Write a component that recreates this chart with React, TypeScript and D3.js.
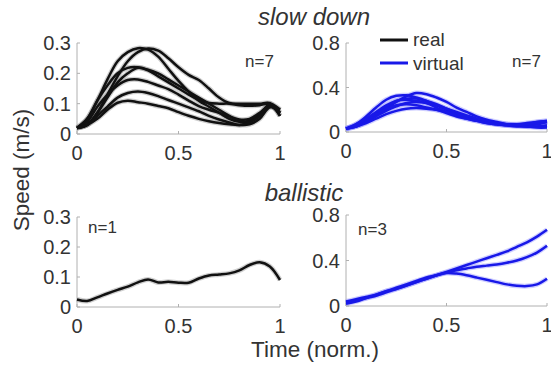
import React from "react";
import * as d3 from "d3";

// normalised time grid shared by every trace
const TIME = [0, 0.05, 0.1, 0.15, 0.2, 0.25, 0.3, 0.35, 0.4, 0.45, 0.5, 0.55, 0.6, 0.65, 0.7, 0.75, 0.8, 0.85, 0.9, 0.95, 1];

// slow down, real (black)
const slowReal: number[][] = [
  [0.02, 0.05, 0.11, 0.18, 0.24, 0.27, 0.283, 0.278, 0.255, 0.215, 0.175, 0.14, 0.11, 0.09, 0.07, 0.05, 0.04, 0.045, 0.065, 0.095, 0.06],
  [0.02, 0.03, 0.07, 0.13, 0.19, 0.24, 0.27, 0.282, 0.275, 0.25, 0.22, 0.195, 0.178, 0.15, 0.12, 0.102, 0.1, 0.1, 0.1, 0.102, 0.06],
  [0.02, 0.05, 0.11, 0.16, 0.2, 0.218, 0.22, 0.21, 0.19, 0.17, 0.15, 0.13, 0.112, 0.102, 0.1, 0.1, 0.095, 0.093, 0.095, 0.1, 0.07],
  [0.02, 0.03, 0.07, 0.12, 0.17, 0.2, 0.218, 0.212, 0.2, 0.18, 0.16, 0.14, 0.12, 0.1, 0.08, 0.06, 0.042, 0.04, 0.06, 0.09, 0.07],
  [0.02, 0.04, 0.09, 0.13, 0.16, 0.178, 0.18, 0.172, 0.16, 0.148, 0.13, 0.11, 0.092, 0.08, 0.07, 0.058, 0.048, 0.05, 0.07, 0.092, 0.07],
  [0.02, 0.03, 0.06, 0.09, 0.12, 0.135, 0.14, 0.135, 0.125, 0.112, 0.1, 0.088, 0.075, 0.06, 0.048, 0.038, 0.03, 0.032, 0.05, 0.088, 0.08],
  [0.02, 0.03, 0.05, 0.08, 0.103, 0.11, 0.105, 0.1, 0.092, 0.085, 0.072, 0.06, 0.05, 0.042, 0.036, 0.032, 0.03, 0.038, 0.06, 0.1, 0.08],
];

// slow down, virtual (blue)
const slowVirtual: number[][] = [
  [0.03, 0.05, 0.09, 0.15, 0.21, 0.27, 0.32, 0.35, 0.34, 0.31, 0.27, 0.22, 0.18, 0.14, 0.11, 0.09, 0.07, 0.06, 0.06, 0.07, 0.09],
  [0.03, 0.07, 0.14, 0.22, 0.29, 0.325, 0.33, 0.31, 0.28, 0.24, 0.2, 0.16, 0.13, 0.11, 0.09, 0.08, 0.07, 0.07, 0.08, 0.09, 0.1],
  [0.03, 0.06, 0.11, 0.17, 0.23, 0.28, 0.3, 0.3, 0.28, 0.25, 0.21, 0.17, 0.14, 0.11, 0.09, 0.07, 0.06, 0.05, 0.05, 0.05, 0.06],
  [0.03, 0.05, 0.09, 0.14, 0.19, 0.23, 0.26, 0.27, 0.26, 0.24, 0.21, 0.18, 0.15, 0.12, 0.1, 0.08, 0.07, 0.06, 0.05, 0.05, 0.05],
  [0.03, 0.05, 0.08, 0.12, 0.16, 0.19, 0.21, 0.215, 0.21, 0.2, 0.18, 0.16, 0.14, 0.12, 0.1, 0.08, 0.07, 0.06, 0.05, 0.04, 0.04],
  [0.03, 0.06, 0.11, 0.16, 0.21, 0.24, 0.25, 0.24, 0.22, 0.2, 0.17, 0.14, 0.12, 0.1, 0.08, 0.07, 0.06, 0.06, 0.07, 0.08, 0.09],
  [0.03, 0.07, 0.12, 0.18, 0.24, 0.28, 0.29, 0.28, 0.26, 0.22, 0.18, 0.15, 0.12, 0.1, 0.08, 0.07, 0.06, 0.06, 0.07, 0.09, 0.1],
];

// ballistic, real (black)
const ballisticReal: number[][] = [
  [0.025, 0.02, 0.032, 0.045, 0.057, 0.068, 0.082, 0.092, 0.082, 0.084, 0.081, 0.081, 0.095, 0.105, 0.108, 0.112, 0.122, 0.14, 0.149, 0.135, 0.09],
];

// ballistic, virtual (blue)
const ballisticVirtual: number[][] = [
  [0.04, 0.06, 0.08, 0.1, 0.13, 0.15, 0.18, 0.21, 0.24, 0.27, 0.3, 0.33, 0.36, 0.39, 0.42, 0.45, 0.48, 0.52, 0.56, 0.61, 0.67],
  [0.03, 0.05, 0.07, 0.09, 0.12, 0.15, 0.18, 0.21, 0.24, 0.27, 0.295, 0.315, 0.33, 0.345, 0.355, 0.365, 0.38, 0.4, 0.43, 0.47, 0.53],
  [0.02, 0.04, 0.07, 0.1, 0.13, 0.16, 0.19, 0.22, 0.25, 0.27, 0.29, 0.285, 0.27, 0.25, 0.23, 0.21, 0.19, 0.178, 0.175, 0.19, 0.24],
];

const X_TICKS = [0, 0.5, 1];
const Y_TICKS_REAL = [0, 0.1, 0.2, 0.3];
const Y_TICKS_VIRTUAL = [0, 0.4, 0.8];

const BLACK = "#111";
const BLUE = "#1818e8";
const TEXT = "#333";
const AXIS = "#b0b0b0";
const FONT = "'Liberation Sans', Arial, sans-serif";

type PanelProps = {
  left: number;
  right: number;
  bottom: number;
  top: number;
  yMax: number;
  yTicks: number[];
  series: number[][];
  color: string;
  halo: string;
  n: string;
  nx: number;
  ny: number;
};

const Panel = ({ left, right, bottom, top, yMax, yTicks, series, color, halo, n, nx, ny }: PanelProps) => {
  const x = d3.scaleLinear().domain([0, 1]).range([left, right]);
  const y = d3.scaleLinear().domain([0, yMax]).range([bottom, top]);
  const line = d3
    .line<number>()
    .x((_, i) => x(TIME[i]))
    .y((d) => y(d))
    .curve(d3.curveCatmullRom.alpha(0.5));

  return (
    <g>
      {/* axes */}
      <line x1={left} x2={right} y1={bottom} y2={bottom} stroke={AXIS} strokeWidth={1} />
      <line x1={left} x2={left} y1={bottom} y2={top} stroke={AXIS} strokeWidth={1} />
      {X_TICKS.map((t) => (
        <g key={"x" + t}>
          <line x1={x(t)} x2={x(t)} y1={bottom} y2={bottom - 3} stroke={AXIS} />
          <text x={x(t)} y={bottom + 26} textAnchor="middle" fontSize={20} fill={TEXT}>
            {String(t)}
          </text>
        </g>
      ))}
      {yTicks.map((t) => (
        <g key={"y" + t}>
          <line x1={left} x2={left + 3} y1={y(t)} y2={y(t)} stroke={AXIS} />
          <text x={left - 6} y={y(t) + 7} textAnchor="end" fontSize={20} fill={TEXT}>
            {String(t)}
          </text>
        </g>
      ))}

      {/* traces with their soft halo */}
      {series.map((s, i) => (
        <path key={"h" + i} d={line(s) ?? ""} fill="none" stroke={halo} strokeWidth={5} strokeOpacity={0.4} />
      ))}
      {series.map((s, i) => (
        <path key={"l" + i} d={line(s) ?? ""} fill="none" stroke={color} strokeWidth={2.5} />
      ))}

      <text x={nx} y={ny} fontSize={17} fill={TEXT}>
        {n}
      </text>
    </g>
  );
};

const App = () => {
  return (
    <svg
      width={551}
      height={367}
      style={{ position: "absolute", left: 0, top: 0, background: "#fff" }}
      fontFamily={FONT}
    >
      <text x={314} y={25} textAnchor="middle" fontSize={24} fontStyle="italic" fill={TEXT}>
        slow down
      </text>
      <text x={304} y={201} textAnchor="middle" fontSize={24} fontStyle="italic" fill={TEXT}>
        ballistic
      </text>

      <Panel left={77} right={280} bottom={134} top={43} yMax={0.3} yTicks={Y_TICKS_REAL}
        series={slowReal} color={BLACK} halo="#888" n="n=7" nx={245} ny={67} />
      <Panel left={346} right={547} bottom={132} top={43} yMax={0.8} yTicks={Y_TICKS_VIRTUAL}
        series={slowVirtual} color={BLUE} halo="#8888ff" n="n=7" nx={512} ny={67} />
      <Panel left={77} right={280} bottom={307} top={217} yMax={0.3} yTicks={Y_TICKS_REAL}
        series={ballisticReal} color={BLACK} halo="#888" n="n=1" nx={88} ny={233} />
      <Panel left={346} right={547} bottom={306} top={215} yMax={0.8} yTicks={Y_TICKS_VIRTUAL}
        series={ballisticVirtual} color={BLUE} halo="#8888ff" n="n=3" nx={358} ny={235} />

      {/* legend */}
      <line x1={380} x2={408} y1={40} y2={40} stroke={BLACK} strokeWidth={3} />
      <text x={413} y={46} fontSize={19} fill={TEXT}>real</text>
      <line x1={380} x2={408} y1={63} y2={63} stroke={BLUE} strokeWidth={3} />
      <text x={413} y={70} fontSize={19} fill={TEXT}>virtual</text>

      {/* shared axis titles */}
      <text transform="translate(29,170) rotate(-90)" textAnchor="middle" fontSize={22.5} fill={TEXT}>
        Speed (m/s)
      </text>
      <text x={315} y={357} textAnchor="middle" fontSize={22.5} fill={TEXT}>
        Time (norm.)
      </text>
    </svg>
  );
};

export default App;
